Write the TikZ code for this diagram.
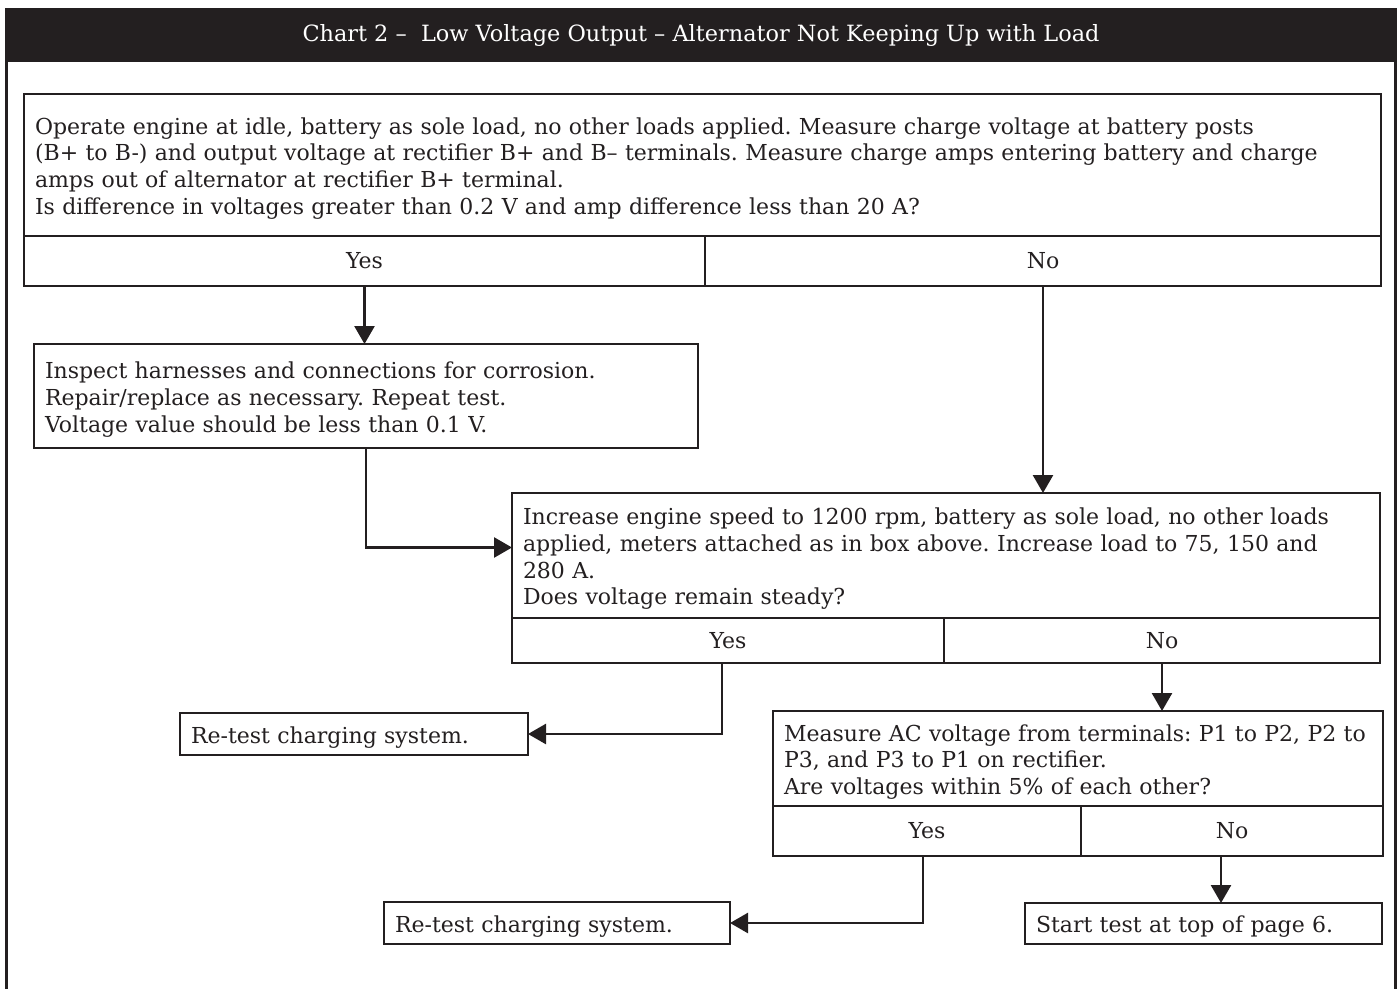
\documentclass[tikz,border=0pt]{standalone}
\usepackage{fontspec}
\setmainfont{DejaVu Serif}
\usetikzlibrary{positioning,arrows.meta}
\definecolor{ink}{RGB}{35,31,32}
\frenchspacing

\begin{document}
\begin{tikzpicture}[x=1pt,y=-1pt,
    every node/.style={outer sep=0pt,font=\fontsize{22}{26.7}\selectfont,text=ink},
    box/.style={draw=ink,line width=2.8pt,rectangle,inner xsep=11pt,inner ysep=0pt,align=left,
      execute at begin node={\rule{0pt}{23.5pt}}},
    cell/.style={draw=ink,line width=2.8pt,rectangle,inner sep=0pt},
    flow/.style={draw=ink,line width=2.6pt,-{Triangle[length=18pt,width=20pt]}}]
  \useasboundingbox (0,0) rectangle (1400,988);

  % header and frame
  \node[fill=ink,text=white,minimum width=1392pt,minimum height=54pt,font=\fontsize{22.4}{26.7}\selectfont] (title) at (701,35)
    {\raisebox{-3pt}{Chart 2 --\ \ Low Voltage Output -- Alternator Not Keeping Up with Load}};
  \draw[ink,line width=2.8pt] (title.south west) ++(1.4,0) -- ++(0,930)
    (title.south east) ++(-1.4,0) -- ++(0,930);

  % first question
  \node[box,anchor=north west,text width=1335pt,minimum height=142pt] (idle) at (24,94)
    {Operate engine at idle, battery as sole load, no other loads applied. Measure charge voltage at battery posts\\
     (B+ to B-) and output voltage at rectifier B+ and B-- terminals. Measure charge amps entering battery and charge\\
     amps out of alternator at rectifier B+ terminal.\\
     Is difference in voltages greater than 0.2 V and amp difference less than 20 A?};
  \node[cell,minimum width=681pt,minimum height=50pt,below right=0pt of idle.south west] (idleyes) {Yes};
  \node[cell,minimum width=676pt,minimum height=50pt,right=0pt of idleyes] (idleno) {No};

  \node[box,anchor=north west,text width=642pt,minimum height=104pt] (insp) at (34,344)
    {Inspect harnesses and connections for corrosion.\\
     Repair/replace as necessary. Repeat test.\\
     Voltage value should be less than 0.1 V.};

  % second question
  \node[box,anchor=north west,text width=846pt,minimum height=125pt] (speed) at (512,493)
    {Increase engine speed to 1200 rpm, battery as sole load, no other loads\\
     applied, meters attached as in box above. Increase load to 75, 150 and\\
     280 A.\\
     Does voltage remain steady?};
  \node[cell,minimum width=432pt,minimum height=45pt,below right=0pt of speed.south west] (speedyes) {Yes};
  \node[cell,minimum width=436pt,minimum height=45pt,right=0pt of speedyes] (speedno) {No};

  \node[box,anchor=north west,text width=326pt,minimum height=42pt] (retestA) at (180,713)
    {Re-test charging system.};

  % third question
  \node[box,anchor=north west,text width=588pt,minimum height=95pt] (acv) at (773,711)
    {Measure AC voltage from terminals: P1 to P2, P2 to\\
     P3, and P3 to P1 on rectifier.\\
     Are voltages within 5\% of each other?};
  \node[cell,minimum width=308pt,minimum height=50pt,below right=0pt of acv.south west] (acvyes) {Yes};
  \node[cell,minimum width=302pt,minimum height=50pt,right=0pt of acvyes] (acvno) {No};

  \node[box,anchor=north west,text width=324pt,minimum height=42pt] (retestB) at (384,902)
    {Re-test charging system.};
  \node[box,anchor=north west,text width=335pt,minimum height=41pt] (page) at (1025,903)
    {Start test at top of page 6.};

  % connectors
  \draw[flow] (idleyes.south) -- (idleyes.south |- insp.north);
  \draw[flow] (idleno.south) -- (idleno.south |- speed.north);
  \draw[flow] (insp.south) |- ([yshift=8pt]speed.west);
  \draw[flow] ([xshift=-6pt]speedyes.south) |- (retestA.east);
  \draw[flow] (speedno.south) -- (speedno.south |- acv.north);
  \draw[flow] ([xshift=-4pt]acvyes.south) |- (retestB.east);
  \draw[flow] ([xshift=-11pt]acvno.south) -- ([xshift=-11pt]acvno.south |- page.north);
\end{tikzpicture}
\end{document}
